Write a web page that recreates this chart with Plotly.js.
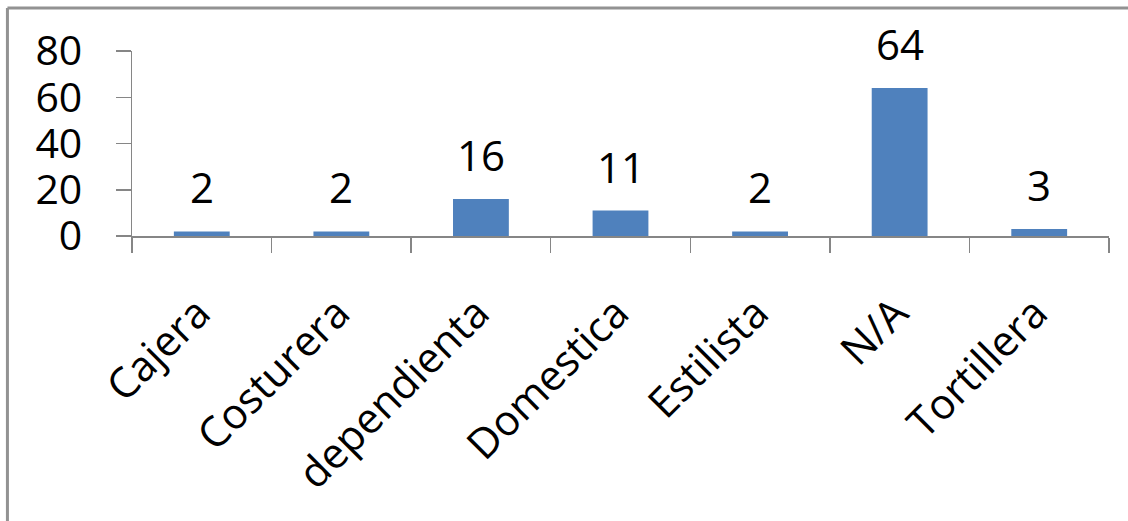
<!DOCTYPE html>
<html>
<head>
<meta charset="utf-8">
<script src="https://cdn.plot.ly/plotly-3.0.1.min.js"></script>
<style>
  html, body { margin: 0; padding: 0; background: #fff; }
  #chart { width: 1128px; height: 521px; }
</style>
</head>
<body>
<div id="chart"></div>
<script>
// Occupation counts
const categories = ["Cajera", "Costurera", "dependienta", "Domestica", "Estilista", "N/A", "Tortillera"];
const counts = [2, 2, 16, 11, 2, 64, 3];
const yTicks = [0, 20, 40, 60, 80];

const FONT = "Open Sans, Liberation Sans, sans-serif";
const AXIS_GREY = "#868686";

const bars = {
  type: "bar",
  x: categories,
  y: counts,
  marker: { color: "#4F81BD", line: { width: 0 } },
  hoverinfo: "x+y"
};

// value labels above each bar
const valueLabels = categories.map((c, i) => ({
  x: c,
  y: counts[i],
  xref: "x",
  yref: "y",
  text: String(counts[i]),
  showarrow: false,
  yanchor: "bottom",
  yshift: 14,
  font: { family: FONT, size: 42, color: "#000" }
}));

const layout = {
  width: 1128,
  height: 521,
  margin: { l: 132, r: 19, t: 51, b: 285 },
  paper_bgcolor: "#fff",
  plot_bgcolor: "#fff",
  bargap: 0.6,
  showlegend: false,
  xaxis: {
    type: "category",
    showgrid: false,
    zeroline: false,
    showline: true,
    linecolor: AXIS_GREY,
    linewidth: 1.5,
    ticks: "outside",
    ticklen: 15,
    tickcolor: AXIS_GREY,
    tickwidth: 1.5,
    tickson: "boundaries",
    tickangle: -45,
    ticklabelstandoff: 34,
    ticklabelshift: -4,
    tickfont: { family: FONT, size: 42, color: "#000" }
  },
  yaxis: {
    range: [0, 80],
    tickvals: yTicks,
    showgrid: false,
    zeroline: false,
    showline: true,
    linecolor: AXIS_GREY,
    linewidth: 1.5,
    ticks: "outside",
    ticklen: 15,
    tickcolor: AXIS_GREY,
    tickwidth: 1.5,
    ticklabelstandoff: 25,
    tickfont: { family: FONT, size: 41, color: "#000" }
  },
  annotations: valueLabels,
  shapes: [
    // chart frame (left and top edges)
    { type: "line", xref: "paper", yref: "paper",
      x0: -0.1275, x1: -0.1275, y0: 1.232, y1: -1.6,
      line: { color: "#929292", width: 3 } },
    { type: "line", xref: "paper", yref: "paper",
      x0: -0.1275, x1: 1.1, y0: 1.232, y1: 1.232,
      line: { color: "#929292", width: 3 } }
  ]
};

Plotly.newPlot("chart", [bars], layout, { displayModeBar: false, staticPlot: true });
</script>
</body>
</html>
